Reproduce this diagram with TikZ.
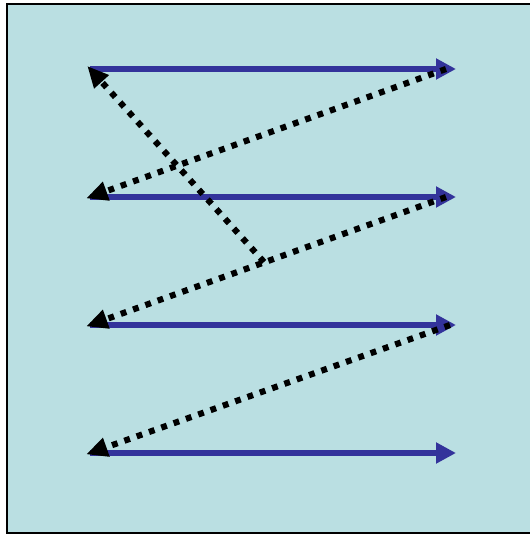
\documentclass[tikz,border=0pt]{standalone}
\usetikzlibrary{arrows.meta}
\definecolor{bgfill}{HTML}{BADFE2}
\definecolor{arrowblue}{HTML}{33339B}
\begin{document}
\begin{tikzpicture}[x=0.75pt,y=-0.75pt,
  bluearrow/.style={draw=arrowblue,line width=5pt,-{Triangle[length=15pt,width=15pt]}},
  dotarrow/.style={draw=black,line width=4.6pt,dash pattern=on 4.4pt off 5.4pt,-{Triangle[length=16pt,width=14pt]}, shorten >=-3pt}]
\useasboundingbox (0,0) rectangle (529,536);
\draw[line width=1.8pt, fill=bgfill] (7,4) rectangle (580,533);
\coordinate (L1) at (90,69);  \coordinate (R1) at (456,69);
\coordinate (L2) at (90,197); \coordinate (R2) at (456,197);
\coordinate (L3) at (90,325); \coordinate (R3) at (456,325);
\coordinate (L4) at (90,453); \coordinate (R4) at (456,453);
\coordinate (S1) at (446,69);
\coordinate (S2) at (446,197);
\coordinate (S3) at (450,325);
\coordinate (M) at (264,262);
\foreach \i in {1,2,3,4} \draw[bluearrow] (L\i) -- (R\i);
\draw[dotarrow] (S1) -- (L2);
\draw[dotarrow] (S2) -- (L3);
\draw[dotarrow] (S3) -- (L4);
\draw[dotarrow] (M) -- (L1);
\end{tikzpicture}
\end{document}
